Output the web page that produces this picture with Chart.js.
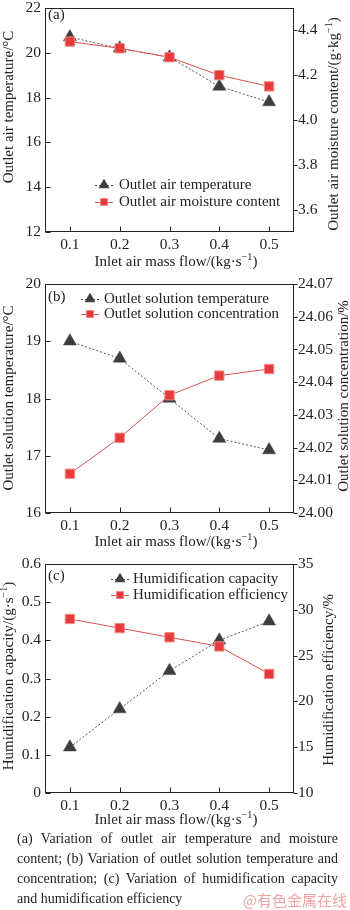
<!DOCTYPE html>
<html>
<head>
<meta charset="utf-8">
<script src="https://cdn.jsdelivr.net/npm/chart.js@4.4.0/dist/chart.umd.min.js"></script>
<style>
body { margin: 0; background: #fff; width: 350px; height: 910px; overflow: hidden; position: relative; font-family: "Liberation Serif", "Times New Roman", serif; }
canvas.panel { position: absolute; left: 0; }
#caption { position: absolute; left: 17px; top: 829px; width: 321px; font-size: 14px; line-height: 20px; color: #222; }
#caption div { white-space: nowrap; text-align: justify; text-align-last: justify; }
#caption div.last { text-align-last: left; }
#mark { position: absolute; right: 3px; top: 890px; font-family: "Noto Sans CJK SC", sans-serif; font-size: 15px; line-height: 20px; color: #f0a3a3; white-space: nowrap; }
</style>
</head>
<body>
<canvas id="chartA" class="panel" width="350" height="275" style="top:0px"></canvas>
<canvas id="chartB" class="panel" width="350" height="280" style="top:276px"></canvas>
<canvas id="chartC" class="panel" width="350" height="280" style="top:556px"></canvas>
<div id="caption">
  <div>(a) Variation of outlet air temperature and moisture</div>
  <div>content; (b) Variation of outlet solution temperature and</div>
  <div>concentration; (c) Variation of humidification capacity</div>
  <div class="last">and humidification efficiency</div>
</div>
<div id="mark">@有色金属在线</div>
<script>
const flow = [0.1, 0.2, 0.3, 0.4, 0.5];
const xTicks = [0.1, 0.2, 0.3, 0.4, 0.5];

// (a)
const airTemp = [20.7, 20.2, 19.8, 18.5, 17.8];
const airMoisture = [4.35, 4.32, 4.28, 4.20, 4.15];
const aLeftTicks = [12, 14, 16, 18, 20, 22];
const aRightTicks = [3.6, 3.8, 4.0, 4.2, 4.4];

// (b)
const solTemp = [19.0, 18.7, 18.0, 17.3, 17.1];
const solConc = [24.012, 24.023, 24.036, 24.042, 24.044];
const bLeftTicks = [16, 17, 18, 19, 20];
const bRightTicks = [24.00, 24.01, 24.02, 24.03, 24.04, 24.05, 24.06, 24.07];

// (c)
const humCapacity = [0.12, 0.22, 0.32, 0.40, 0.45];
const humEfficiency = [29, 28, 27, 26, 23];
const cLeftTicks = [0, 0.1, 0.2, 0.3, 0.4, 0.5, 0.6];
const cRightTicks = [10, 15, 20, 25, 30, 35];

const FONT = '"Liberation Serif", "Times New Roman", serif';
Chart.defaults.font.family = FONT;
Chart.defaults.color = '#222';

const TRI = '#3d3d3d';
const RED = '#e63b3b';
const RED_LINE = '#d9534f';

// text with ^{...} superscripts
function richText(ctx, str, cx, cy, size) {
    let parts = str.split(/\^\{(.*?)\}/).map((t, i) => ({ t: t, sup: i % 2 == 1 }));
    let w = 0;
    parts.forEach(p => {
        ctx.font = (p.sup ? size * 0.68 : size) + 'px ' + FONT;
        p.w = ctx.measureText(p.t).width;
        w += p.w;
    });
    let x = cx - w / 2;
    ctx.textAlign = 'left';
    ctx.textBaseline = 'middle';
    parts.forEach(p => {
        ctx.font = (p.sup ? size * 0.68 : size) + 'px ' + FONT;
        ctx.fillText(p.t, x, p.sup ? cy - size * 0.33 : cy);
        x += p.w;
    });
}

const decor = {
    id: 'decor',
    afterDraw(chart, args, o) {
        const ctx = chart.ctx;
        const a = chart.chartArea;
        const off = o.top;
        ctx.save();
        ctx.strokeStyle = '#222';
        ctx.lineWidth = 1;
        let l = Math.round(a.left) + 0.5, r = Math.round(a.right) - 0.5;
        let t = Math.round(a.top) + 0.5, b = Math.round(a.bottom) - 0.5;
        ctx.strokeRect(l, t, r - l, b - t);

        // ticks: bottom and left inward, right outward
        ctx.beginPath();
        chart.scales.x.ticks.forEach(tk => {
            let px = Math.round(chart.scales.x.getPixelForValue(tk.value)) + 0.5;
            ctx.moveTo(px, b); ctx.lineTo(px, b - 5);
        });
        chart.scales.y.ticks.forEach(tk => {
            let py = Math.round(chart.scales.y.getPixelForValue(tk.value)) + 0.5;
            ctx.moveTo(l, py); ctx.lineTo(l + 5, py);
        });
        chart.scales.y1.ticks.forEach(tk => {
            let py = Math.round(chart.scales.y1.getPixelForValue(tk.value)) + 0.5;
            ctx.moveTo(r, py); ctx.lineTo(r + 4, py);
        });
        ctx.stroke();

        ctx.fillStyle = '#222';
        // axis titles
        richText(ctx, o.xTitle.text, o.xTitle.x, o.xTitle.y - off, 15);
        [o.yTitle, o.y1Title].forEach(tt => {
            ctx.save();
            ctx.translate(tt.x, tt.y - off);
            ctx.rotate(-Math.PI / 2);
            richText(ctx, tt.text, 0, 0, 15);
            ctx.restore();
        });

        // panel label
        ctx.font = '15px ' + FONT;
        ctx.textAlign = 'left';
        ctx.textBaseline = 'middle';
        ctx.fillText(o.label.text, o.label.x, o.label.y - off);

        // legend
        o.legend.forEach(it => {
            let ds = chart.data.datasets[it.ds];
            let y = it.y - off;
            ctx.save();
            ctx.strokeStyle = ds.borderColor;
            ctx.lineWidth = 1;
            ctx.setLineDash(ds.borderDash || []);
            ctx.beginPath();
            ctx.moveTo(o.legendX - 9, y + 0.5);
            ctx.lineTo(o.legendX + 9, y + 0.5);
            ctx.stroke();
            ctx.setLineDash([]);
            ctx.fillStyle = ds.pointBackgroundColor;
            ctx.strokeStyle = ds.pointBorderColor;
            Chart.helpers.drawPoint(ctx, {
                pointStyle: ds.pointStyle, radius: ds.pointStyle == 'triangle' ? 5.5 : 5,
                rotation: 0, borderWidth: ds.pointBorderWidth
            }, o.legendX, y);
            ctx.restore();
            ctx.fillStyle = '#222';
            ctx.font = '15px ' + FONT;
            ctx.textAlign = 'left';
            ctx.textBaseline = 'middle';
            ctx.fillText(it.text, o.textX, y);
        });
        ctx.restore();
    }
};

function triSet(values) {
    return {
        data: values, yAxisID: 'y', order: 2,
        borderColor: '#555', borderWidth: 1, borderDash: [2, 2],
        pointStyle: 'triangle', pointRadius: 7.5,
        pointBackgroundColor: TRI, pointBorderColor: TRI, pointBorderWidth: 0.5
    };
}

function sqSet(values) {
    return {
        data: values, yAxisID: 'y1', order: 1,
        borderColor: RED_LINE, borderWidth: 1,
        pointStyle: 'rect', pointRadius: 6.6,
        pointBackgroundColor: RED, pointBorderColor: '#f08a8a', pointBorderWidth: 1
    };
}

function makePanel(id, p) {
    const fixLeft = s => { s.width = 45; s.paddingTop = 0; s.paddingBottom = 0; };
    const fixRight = s => { s.width = 56; s.paddingTop = 0; s.paddingBottom = 0; };
    new Chart(document.getElementById(id), {
        type: 'line',
        data: {
            labels: flow,
            datasets: [triSet(p.left), sqSet(p.right)].map(ds => {
                ds.data = ds.data.map((v, i) => ({ x: flow[i], y: v }));
                return ds;
            })
        },
        options: {
            responsive: false,
            animation: false,
            layout: { padding: { top: p.padTop, left: 0, right: 0, bottom: 0 } },
            plugins: {
                legend: { display: false },
                tooltip: { enabled: false },
                decor: p.decor
            },
            scales: {
                x: {
                    type: 'linear', min: 0.05, max: 0.55,
                    grid: { display: false, drawTicks: false },
                    border: { display: false },
                    afterBuildTicks: s => { s.ticks = xTicks.map(v => ({ value: v })); },
                    afterFit: s => { s.height = p.xHeight; s.paddingLeft = 0; s.paddingRight = 0; },
                    ticks: { font: { size: 15.5 }, padding: 4, maxRotation: 0, callback: v => v.toFixed(1) }
                },
                y: {
                    position: 'left', min: p.yMin, max: p.yMax,
                    grid: { display: false, drawTicks: false },
                    border: { display: false },
                    afterBuildTicks: s => { s.ticks = p.yTicks.map(v => ({ value: v })); },
                    afterFit: fixLeft,
                    ticks: { font: { size: 15.5 }, padding: 4, callback: p.yFmt }
                },
                y1: {
                    position: 'right', min: p.y1Min, max: p.y1Max,
                    grid: { display: false, drawTicks: false },
                    border: { display: false },
                    afterBuildTicks: s => { s.ticks = p.y1Ticks.map(v => ({ value: v })); },
                    afterFit: fixRight,
                    ticks: { font: { size: 15.5 }, padding: 4, callback: p.y1Fmt }
                }
            }
        },
        plugins: [decor]
    });
}

const xTitle = 'Inlet air mass flow/(kg·s^{−1})';

makePanel('chartA', {
    left: airTemp, right: airMoisture, padTop: 3, xHeight: 43,
    yMin: 12, yMax: 22, yTicks: aLeftTicks, yFmt: v => v.toFixed(0),
    y1Min: 3.5, y1Max: 4.5, y1Ticks: aRightTicks, y1Fmt: v => v.toFixed(1),
    decor: {
        top: 0,
        xTitle: { text: xTitle, x: 176, y: 262 },
        yTitle: { text: 'Outlet air temperature/°C', x: 9, y: 107 },
        y1Title: { text: 'Outlet air moisture content/(g·kg^{−1})', x: 334, y: 124 },
        label: { text: '(a)', x: 48, y: 15 },
        legendX: 104, textX: 119,
        legend: [
            { ds: 0, y: 185, text: 'Outlet air temperature' },
            { ds: 1, y: 202, text: 'Outlet air moisture content' }
        ]
    }
});

makePanel('chartB', {
    left: solTemp, right: solConc, padTop: 8, xHeight: 43,
    yMin: 16, yMax: 20, yTicks: bLeftTicks, yFmt: v => v.toFixed(0),
    y1Min: 24.00, y1Max: 24.07, y1Ticks: bRightTicks, y1Fmt: v => v.toFixed(2),
    decor: {
        top: 276,
        xTitle: { text: xTitle, x: 176, y: 542 },
        yTitle: { text: 'Outlet solution temperature/°C', x: 9, y: 398 },
        y1Title: { text: 'Outlet solution concentration/%', x: 344, y: 396 },
        label: { text: '(b)', x: 48, y: 297 },
        legendX: 90, textX: 104,
        legend: [
            { ds: 0, y: 299, text: 'Outlet solution temperature' },
            { ds: 1, y: 314, text: 'Outlet solution concentration' }
        ]
    }
});

makePanel('chartC', {
    left: humCapacity, right: humEfficiency, padTop: 8, xHeight: 43,
    yMin: 0, yMax: 0.6, yTicks: cLeftTicks, yFmt: v => v == 0 ? '0' : v.toFixed(1),
    y1Min: 10, y1Max: 35, y1Ticks: cRightTicks, y1Fmt: v => v.toFixed(0),
    decor: {
        top: 556,
        xTitle: { text: xTitle, x: 176, y: 820 },
        yTitle: { text: 'Humidification capacity/(g·s^{−1})', x: 9, y: 676 },
        y1Title: { text: 'Humidification efficiency/%', x: 329, y: 680 },
        label: { text: '(c)', x: 48, y: 576 },
        legendX: 120, textX: 133,
        legend: [
            { ds: 0, y: 579, text: 'Humidification capacity' },
            { ds: 1, y: 595, text: 'Humidification efficiency' }
        ]
    }
});
</script>
</body>
</html>
